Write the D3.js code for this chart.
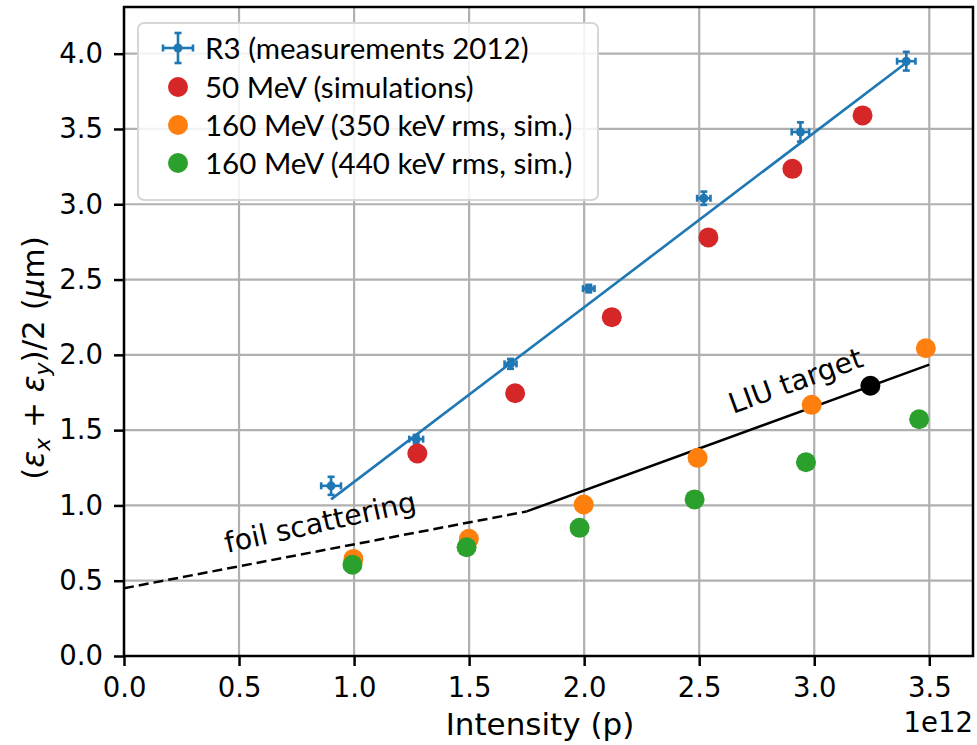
<!DOCTYPE html>
<html>
<head>
<meta charset="utf-8">
<script src="https://cdn.jsdelivr.net/npm/d3@7"></script>
<style>
  body { margin: 0; background: #fff; }
  svg { display: block; }
  svg text { font-family: "DejaVu Sans", sans-serif; }
  svg text.leg { font-family: Lato, sans-serif; font-variant-ligatures: none; }
</style>
</head>
<body>
<div id="chart"></div>
<script>
// measurements R3 2012 (intensity in 1e12 p)
const measX = [0.90, 1.27, 1.68, 2.02, 2.52, 2.94, 3.40];
const measY = [1.13, 1.44, 1.94, 2.44, 3.04, 3.48, 3.95];
const measXErr = [0.043, 0.030, 0.026, 0.025, 0.029, 0.038, 0.040];
const measYErr = [0.060, 0.028, 0.033, 0.025, 0.044, 0.064, 0.062];
const fitX = [0.90, 3.40];
const fitY = [1.04, 3.94];

const sim50X = [1.275, 1.70, 2.12, 2.54, 2.905, 3.21];
const sim50Y = [1.345, 1.745, 2.25, 2.78, 3.235, 3.59];

const sim350X = [0.997, 1.499, 1.998, 2.493, 2.989, 3.485];
const sim350Y = [0.645, 0.778, 1.006, 1.316, 1.668, 2.044];

const sim440X = [0.993, 1.489, 1.98, 2.48, 2.964, 3.456];
const sim440Y = [0.606, 0.722, 0.851, 1.04, 1.287, 1.572];

const foilX = [0, 1.75];
const foilY = [0.45, 0.96];
const liuX = [1.75, 3.5];
const liuY = [0.96, 1.935];
const targetX = [3.244];
const targetY = [1.795];

const xTicks = [0, 0.5, 1.0, 1.5, 2.0, 2.5, 3.0, 3.5];
const yTicks = [0, 0.5, 1.0, 1.5, 2.0, 2.5, 3.0, 3.5, 4.0];

const legendLabels = [
  "R3 (measurements 2012)",
  "50 MeV (simulations)",
  "160 MeV (350 keV rms, sim.)",
  "160 MeV (440 keV rms, sim.)"
];

const W = 977, H = 745;
const blue = "#1f77b4", red = "#d62728", orange = "#ff7f0e", green = "#2ca02c";

const svg = d3.select("#chart").append("svg")
  .attr("width", W).attr("height", H);

const x = d3.scaleLinear().domain([0, 3.69]).range([124, 973]);
const y = d3.scaleLinear().domain([0, 4.31]).range([656, 7]);

// grid
const grid = svg.append("g").attr("stroke", "#b0b0b0").attr("stroke-width", 2.2);
xTicks.forEach(t => grid.append("line")
  .attr("x1", x(t)).attr("x2", x(t)).attr("y1", y.range()[0]).attr("y2", y.range()[1]));
yTicks.forEach(t => grid.append("line")
  .attr("x1", x.range()[0]).attr("x2", x.range()[1]).attr("y1", y(t)).attr("y2", y(t)));

const line = d3.line().x(d => x(d[0])).y(d => y(d[1]));
const zip = (a, b) => a.map((v, i) => [v, b[i]]);

// foil scattering (dashed) and LIU target (solid)
svg.append("path").datum(zip(foilX, foilY))
  .attr("d", line).attr("fill", "none").attr("stroke", "#000")
  .attr("stroke-width", 2.5).attr("stroke-dasharray", "10,5");
svg.append("path").datum(zip(liuX, liuY))
  .attr("d", line).attr("fill", "none").attr("stroke", "#000")
  .attr("stroke-width", 2.5);

// fit line to measurements
svg.append("path").datum(zip(fitX, fitY))
  .attr("d", line).attr("fill", "none").attr("stroke", blue)
  .attr("stroke-width", 2.6);

// error bars
const eb = svg.append("g").attr("stroke", blue).attr("stroke-width", 2.6);
measX.forEach((mx, i) => {
  const cx = x(mx), cy = y(measY[i]);
  const x0 = x(mx - measXErr[i]), x1 = x(mx + measXErr[i]);
  const y0 = y(measY[i] - measYErr[i]), y1 = y(measY[i] + measYErr[i]);
  eb.append("line").attr("x1", x0).attr("x2", x1).attr("y1", cy).attr("y2", cy);
  eb.append("line").attr("x1", cx).attr("x2", cx).attr("y1", y0).attr("y2", y1);
  eb.append("line").attr("x1", x0).attr("x2", x0).attr("y1", cy - 3.5).attr("y2", cy + 3.5);
  eb.append("line").attr("x1", x1).attr("x2", x1).attr("y1", cy - 3.5).attr("y2", cy + 3.5);
  eb.append("line").attr("x1", cx - 3.5).attr("x2", cx + 3.5).attr("y1", y0).attr("y2", y0);
  eb.append("line").attr("x1", cx - 3.5).attr("x2", cx + 3.5).attr("y1", y1).attr("y2", y1);
  eb.append("circle").attr("cx", cx).attr("cy", cy).attr("r", 4.5).attr("fill", blue).attr("stroke", "none");
});

// simulation points
function dots(xs, ys, color) {
  svg.append("g").selectAll("circle")
    .data(zip(xs, ys)).enter().append("circle")
    .attr("cx", d => x(d[0])).attr("cy", d => y(d[1]))
    .attr("r", 10).attr("fill", color);
}
dots(sim50X, sim50Y, red);
dots(sim350X, sim350Y, orange);
dots(sim440X, sim440Y, green);
dots(targetX, targetY, "#000");

// annotations
svg.append("text")
  .attr("transform", "translate(227,553) rotate(-12.5)")
  .attr("font-size", 28.4).text("foil scattering");
svg.append("text")
  .attr("transform", "translate(733,414) rotate(-20)")
  .attr("font-size", 28.4).text("LIU target");

// frame
svg.append("rect")
  .attr("x", x.range()[0]).attr("y", y.range()[1])
  .attr("width", x.range()[1] - x.range()[0]).attr("height", y.range()[0] - y.range()[1])
  .attr("fill", "none").attr("stroke", "#000").attr("stroke-width", 2.5);

// axes ticks
const xAxis = svg.append("g").attr("transform", `translate(0,${y.range()[0]})`)
  .call(d3.axisBottom(x).tickValues(xTicks).tickFormat(d3.format(".1f")).tickSizeOuter(0).tickSize(10).tickPadding(11));
const yAxis = svg.append("g").attr("transform", `translate(${x.range()[0]},0)`)
  .call(d3.axisLeft(y).tickValues(yTicks).tickFormat(d3.format(".1f")).tickSizeOuter(0).tickSize(10).tickPadding(11));
[xAxis, yAxis].forEach(a => {
  a.attr("font-family", null).attr("font-size", null);
  a.select(".domain").remove();
  a.selectAll(".tick line").attr("stroke", "#000").attr("stroke-width", 2.5);
  a.selectAll(".tick text").attr("font-size", 27.5).attr("fill", "#000");
});

// axis labels
svg.append("text").attr("x", 540).attr("y", 735).attr("text-anchor", "middle")
  .attr("font-size", 31).text("Intensity (p)");
svg.append("text").attr("x", 973).attr("y", 732).attr("text-anchor", "end")
  .attr("font-size", 27.5).text("1e12");

const yl = svg.append("text")
  .attr("transform", "translate(44,358) rotate(-90)")
  .attr("text-anchor", "middle").attr("font-size", 31);
yl.append("tspan").text("(");
yl.append("tspan").attr("font-style", "italic").text("ε");
yl.append("tspan").attr("font-style", "italic").attr("font-size", 22).attr("dy", 6).text("x");
yl.append("tspan").attr("dy", -6).text(" + ");
yl.append("tspan").attr("font-style", "italic").text("ε");
yl.append("tspan").attr("font-style", "italic").attr("font-size", 22).attr("dy", 6).text("y");
yl.append("tspan").attr("dy", -6).text(")/2 (");
yl.append("tspan").attr("font-style", "italic").text("μ");
yl.append("tspan").text("m)");

// legend
const lg = svg.append("g");
lg.append("rect").attr("x", 138).attr("y", 23).attr("width", 460).attr("height", 177)
  .attr("rx", 6).attr("fill", "#fff").attr("fill-opacity", 0.85)
  .attr("stroke", "#d6d6d6").attr("stroke-width", 2);
const rowY = [48, 87, 125, 163];
const lcol = [blue, red, orange, green];
legendLabels.forEach((t, i) => {
  if (i === 0) {
    const g = lg.append("g").attr("stroke", blue).attr("stroke-width", 2.6);
    g.append("line").attr("x1", 163).attr("x2", 193).attr("y1", rowY[i]).attr("y2", rowY[i]);
    g.append("line").attr("x1", 178).attr("x2", 178).attr("y1", rowY[i] - 15).attr("y2", rowY[i] + 15);
    g.append("line").attr("x1", 163).attr("x2", 163).attr("y1", rowY[i] - 3.5).attr("y2", rowY[i] + 3.5);
    g.append("line").attr("x1", 193).attr("x2", 193).attr("y1", rowY[i] - 3.5).attr("y2", rowY[i] + 3.5);
    g.append("line").attr("x1", 174.5).attr("x2", 181.5).attr("y1", rowY[i] - 15).attr("y2", rowY[i] - 15);
    g.append("line").attr("x1", 174.5).attr("x2", 181.5).attr("y1", rowY[i] + 15).attr("y2", rowY[i] + 15);
    g.append("circle").attr("cx", 178).attr("cy", rowY[i]).attr("r", 4.5).attr("fill", blue).attr("stroke", "none");
  } else {
    lg.append("circle").attr("cx", 178).attr("cy", rowY[i]).attr("r", 10).attr("fill", lcol[i]);
  }
  lg.append("text").attr("class", "leg").attr("x", 205).attr("y", rowY[i] + 11)
    .attr("font-size", 29.5).text(t);
});
</script>
</body>
</html>
